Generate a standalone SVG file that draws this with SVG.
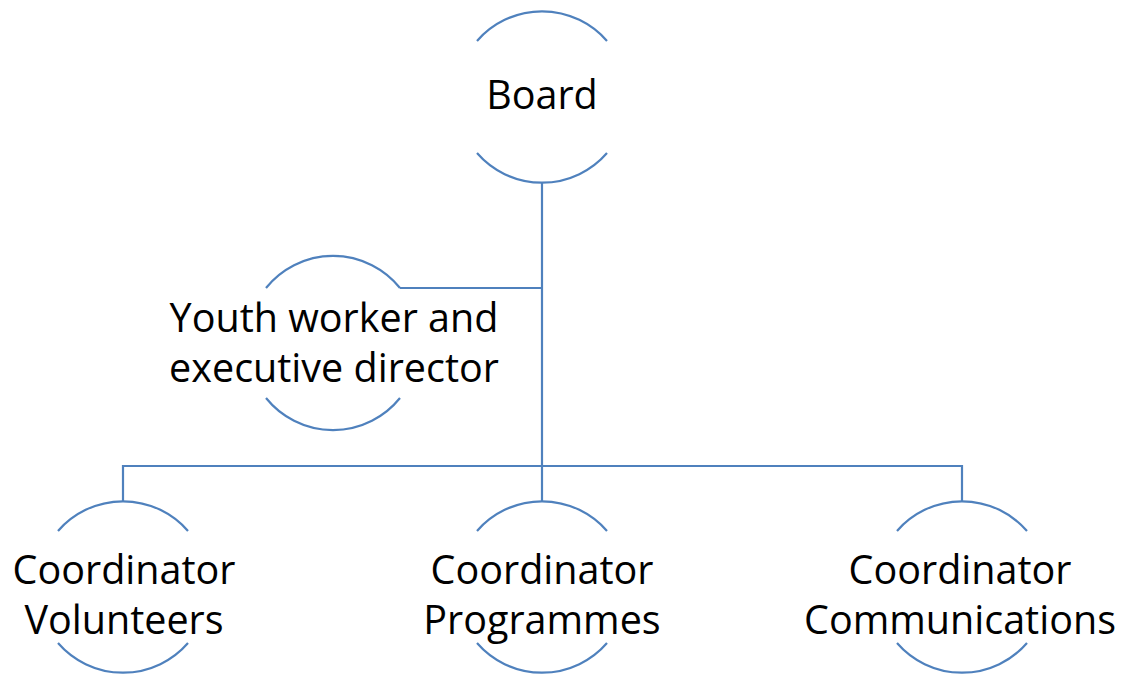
<svg xmlns="http://www.w3.org/2000/svg" width="1127" height="677" viewBox="0 0 1127 677">
<style>
.arc{fill:none;stroke:#4F81BD;stroke-width:2.2}
.conn{fill:none;stroke:#4F81BD;stroke-width:2.2}
.lbl{font-family:"Open Sans","Liberation Sans",sans-serif;font-size:39.5px;fill:#000;text-anchor:middle}
</style>
<rect width="1127" height="677" fill="#fff"/>
<g id="connectors">
<path class="conn" d="M542 183 V466"/>
<path class="conn" d="M400 288 H542"/>
<path class="conn" d="M123 501 V466 H962 V501"/>
<path class="conn" d="M542 466 V501"/>
</g>
<g id="board">
<path class="arc" d="M477 41 A86 86 0 0 1 607 41"/>
<path class="arc" d="M477 153 A86 86 0 0 0 607 153"/>
<text class="lbl" x="542" y="109">Board</text>
</g>
<g id="youth">
<path class="arc" d="M266 288 A86 86 0 0 1 400 288"/>
<path class="arc" d="M266 398 A86 86 0 0 0 400 398"/>
<text class="lbl" x="334" y="332">Youth worker and</text>
<text class="lbl" x="334" y="382">executive director</text>
</g>
<g id="volunteers">
<path class="arc" d="M58 531 A86 86 0 0 1 188 531"/>
<path class="arc" d="M58 643 A86 86 0 0 0 188 643"/>
<text class="lbl" x="124" y="584">Coordinator</text>
<text class="lbl" x="124" y="634">Volunteers</text>
</g>
<g id="programmes">
<path class="arc" d="M477 531 A86 86 0 0 1 607 531"/>
<path class="arc" d="M477 643 A86 86 0 0 0 607 643"/>
<text class="lbl" x="542" y="584">Coordinator</text>
<text class="lbl" x="542" y="634">Programmes</text>
</g>
<g id="communications">
<path class="arc" d="M897 531 A86 86 0 0 1 1027 531"/>
<path class="arc" d="M897 643 A86 86 0 0 0 1027 643"/>
<text class="lbl" x="960" y="584">Coordinator</text>
<text class="lbl" x="960" y="634">Communications</text>
</g>
</svg>
